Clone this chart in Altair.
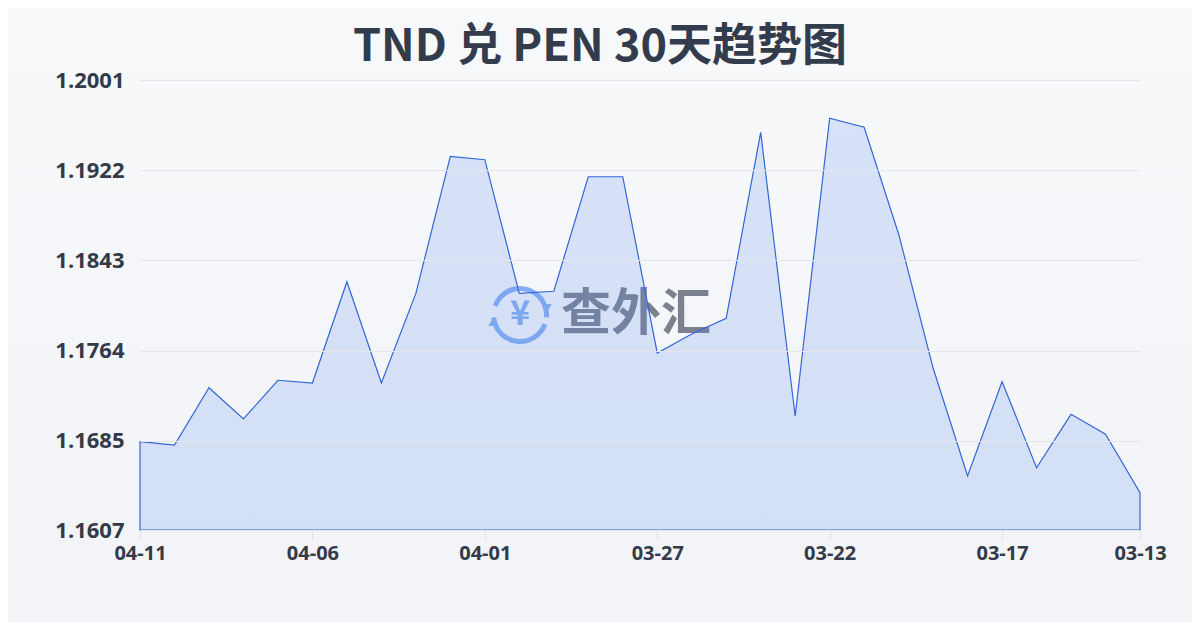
import json
import altair as alt
import pandas as pd

dates = ["04-11", "04-10", "04-09", "04-08", "04-07", "04-06", "04-05", "04-04",
         "04-03", "04-02", "04-01", "03-31", "03-30", "03-29", "03-28", "03-27",
         "03-26", "03-25", "03-24", "03-23", "03-22", "03-21", "03-20", "03-19",
         "03-18", "03-17", "03-16", "03-15", "03-14", "03-13"]
rates = [1.16843, 1.16814, 1.17316, 1.17042, 1.17381, 1.17357, 1.18244, 1.17357,
         1.18142, 1.19342, 1.19312, 1.18142, 1.18160, 1.19163, 1.19163, 1.17620,
         1.17786, 1.17924, 1.19552, 1.17068, 1.19675, 1.19596, 1.18662, 1.17488,
         1.16543, 1.17368, 1.16615, 1.17083, 1.16908, 1.16397]
x_ticks = ["04-11", "04-06", "04-01", "03-27", "03-22", "03-17", "03-13"]
y_ticks = [1.1607, 1.1685, 1.1764, 1.1843, 1.1922, 1.2001]
y_min, y_max = 1.1607, 1.2001
title_text = "TND 兑 PEN 30天趋势图"
watermark = "查外汇"

FONT = "Noto Sans CJK SC"
LFONT = "Open Sans"
W, H = 1000, 450

df = pd.DataFrame({"idx": list(range(len(dates))), "date": dates, "rate": rates})
one = pd.DataFrame({"k": [0]})
tick_idx = [dates.index(d) for d in x_ticks]

x_enc = alt.X("idx:Q",
              scale=alt.Scale(domain=[0, len(dates) - 1], nice=False, zero=False),
              axis=alt.Axis(values=tick_idx, title=None, labelAngle=0,
                            labelExpr=json.dumps(dates) + "[datum.value]",
                            labelFont=LFONT, labelFontSize=20, labelFontWeight="bold",
                            labelColor="#333a48", labelPadding=3,
                            labelOverlap=False, labelBound=False, labelFlush=False,
                            tickColor="#dfe3e8", tickSize=10, domain=False, grid=False,
                            zindex=1))
y_enc = alt.Y("rate:Q",
              scale=alt.Scale(domain=[y_min, y_max], zero=False, nice=False),
              axis=alt.Axis(values=y_ticks, format=".4f", title=None,
                            labelFont=LFONT, labelFontSize=22, labelFontWeight="bold",
                            labelColor="#333a48", labelPadding=16,
                            labelOverlap=False, labelFlush=False,
                            domain=False, ticks=False,
                            grid=True, gridColor="#e3e6eb", gridWidth=1, zindex=1))

bg = alt.Chart(one).mark_rect(
    fill=alt.Gradient(gradient="linear",
                      stops=[alt.GradientStop(color="#f8f9fb", offset=0),
                             alt.GradientStop(color="#f1f3f6", offset=1)],
                      x1=0, x2=0, y1=0, y2=1)
).encode(x=alt.value(-140), x2=alt.value(1060), y=alt.value(-80), y2=alt.value(550))

area = alt.Chart(df).mark_area(
    fill="#5b8def", fillOpacity=0.2, stroke="#3466d6", strokeWidth=1.2
).encode(x=x_enc, y=y_enc, y2=alt.datum(y_min))

ring_top = alt.Chart(one).mark_arc(
    radius=29, radius2=24, theta=5.06, theta2=7.94, color="#86aef2"
).encode(x=alt.value(380), y=alt.value(235))
ring_bot = alt.Chart(one).mark_arc(
    radius=29, radius2=24, theta=1.92, theta2=4.62, color="#86aef2"
).encode(x=alt.value(380), y=alt.value(235))
arrow1 = alt.Chart(one).mark_point(
    shape="triangle-down", filled=True, size=90, color="#86aef2", opacity=1
).encode(x=alt.value(407), y=alt.value(228))
arrow2 = alt.Chart(one).mark_point(
    shape="triangle-up", filled=True, size=90, color="#86aef2", opacity=1
).encode(x=alt.value(353), y=alt.value(242))
yen = alt.Chart(one).mark_text(
    text="¥", font=FONT, fontSize=34, fontWeight="bold", color="#86aef2",
    align="center", baseline="middle"
).encode(x=alt.value(380), y=alt.value(235))
wm = alt.Chart(one).mark_text(
    text=watermark, font=FONT, fontSize=50, fontWeight="bold", color="#6f7584",
    opacity=0.9, align="center", baseline="middle"
).encode(x=alt.value(496), y=alt.value(235))

title = alt.Chart(one).mark_text(
    text=title_text, font=FONT, fontSize=45, fontWeight="bold", color="#333c4d",
    align="center", baseline="middle"
).encode(x=alt.value(460), y=alt.value(-33))

chart = alt.layer(bg, wm, ring_top, ring_bot, arrow1, arrow2, yen, area, title).properties(
    width=W, height=H,
    autosize=alt.AutoSizeParams(type="none"),
    padding={"left": 132, "top": 72, "right": 52, "bottom": 92},
    background="#f4f6f9",
).configure_view(stroke=None)

chart.save("out.html", embed_options={"renderer": "svg", "actions": False})
